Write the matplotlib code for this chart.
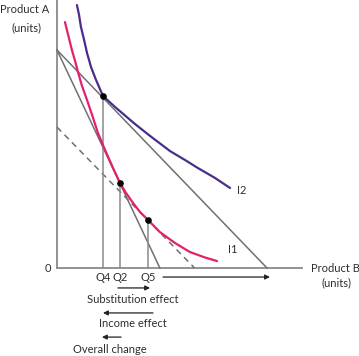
import matplotlib
matplotlib.use("Agg")
import matplotlib.pyplot as plt

# indifference curves (product B units, product A units)
i2_b = [0.95, 1.05, 1.14, 1.29, 1.43, 1.62, 1.86, 2.19, 2.76, 3.71, 4.43,
        5.38, 6.10, 6.71, 7.52, 8.24]
i2_a = [12.52, 12.05, 11.48, 10.86, 10.24, 9.57, 8.95, 8.19, 7.67, 6.86, 6.29,
        5.57, 5.14, 4.76, 4.29, 3.81]
i1_b = [0.38, 0.52, 0.71, 0.86, 1.00, 1.19, 1.43, 1.67, 1.95, 2.29, 2.67,
        3.00, 3.29, 3.62, 3.95, 4.33, 4.90, 5.62, 6.33, 7.05, 7.62]
i1_a = [11.71, 11.14, 10.38, 9.86, 9.33, 8.67, 8.00, 7.29, 6.43, 5.62, 4.76,
        4.05, 3.57, 3.10, 2.67, 2.29, 1.71, 1.19, 0.76, 0.50, 0.33]

# budget lines: (A intercept, B intercept)
budget_new = (10.38, 10.0)
budget_old = (10.38, 4.9)
budget_comp = (6.71, 6.55)

# equilibrium points
q_labels = ["Q4", "Q2", "Q5"]
q_b = [2.19, 3.00, 4.33]
q_a = [8.19, 4.05, 2.29]

GREY = "#8a8a8a"
LINE = "#707070"
PURPLE = "#4a2c8c"
PINK = "#e2206e"
TXT = "#2e2e2e"
FONT = "Lato"
FS = 8

fig = plt.figure(figsize=(3.59, 3.56), dpi=100)
ax = fig.add_axes([0, 0, 1, 1])
ax.set_xlim(-57 / 21, 302 / 21)
ax.set_ylim(-88 / 21, 268 / 21)
ax.axis("off")

# axes
ax.plot([0, 0], [0, 12.76], color=GREY, lw=1.3)
ax.plot([0, 11.67], [0, 0], color=GREY, lw=1.3)

# budget lines
for (a0, b0), ls in [(budget_new, "-"), (budget_old, "-"), (budget_comp, (0, (4, 3)))]:
    ax.plot([0, b0], [a0, 0], color=LINE, lw=1.1, linestyle=ls)

# drop lines
for b, a in zip(q_b, q_a):
    ax.plot([b, b], [0, a], color=GREY, lw=1.1)

ax.plot(i2_b, i2_a, color=PURPLE, lw=1.6, solid_capstyle="round", solid_joinstyle="round")
ax.plot(i1_b, i1_a, color=PINK, lw=1.6, solid_capstyle="round", solid_joinstyle="round")
ax.scatter(q_b, q_a, s=14, color="black", zorder=5)

# labels
ax.text(-2.71, 12.29, "Product A", fontsize=FS, family=FONT, color=TXT, va="center", ha="left")
ax.text(-1.43, 11.43, "(units)", fontsize=FS, family=FONT, color=TXT, va="center", ha="center")
ax.text(12.1, 0, "Product B", fontsize=FS, family=FONT, color=TXT, va="center", ha="left")
ax.text(13.33, -0.71, "(units)", fontsize=FS, family=FONT, color=TXT, va="center", ha="center")
ax.text(-0.43, 0, "0", fontsize=FS, family=FONT, color=TXT, va="center", ha="center")
ax.text(8.57, 3.71, "I2", fontsize=FS, family=FONT, color=TXT, va="center", ha="left")
ax.text(8.14, 0.86, "I1", fontsize=FS, family=FONT, color=TXT, va="center", ha="left")
for lab, b in zip(q_labels, q_b):
    ax.text(b, -0.43, lab, fontsize=FS, family=FONT, color=TXT, va="center", ha="center")

# effect arrows
arrows = [
    ((5.05, -0.43), (10.14, -0.43)),
    ((q_b[1] - 0.1, -0.95), (q_b[2] + 0.1, -0.95)),
    ((q_b[2] + 0.24, -2.14), (q_b[0], -2.14)),
    ((q_b[1] + 0.05, -3.29), (q_b[0] - 0.05, -3.29)),
]
for start, end in arrows:
    ax.annotate("", xy=end, xytext=start,
                arrowprops=dict(arrowstyle="-|>", color="#222222", lw=0.9,
                                mutation_scale=7, shrinkA=0, shrinkB=0))

ax.text(3.62, -1.48, "Substitution effect", fontsize=FS, family=FONT, color=TXT, va="center", ha="center")
ax.text(3.62, -2.62, "Income effect", fontsize=FS, family=FONT, color=TXT, va="center", ha="center")
ax.text(2.52, -3.90, "Overall change", fontsize=FS, family=FONT, color=TXT, va="center", ha="center")

fig.savefig("out.png", dpi=100)
